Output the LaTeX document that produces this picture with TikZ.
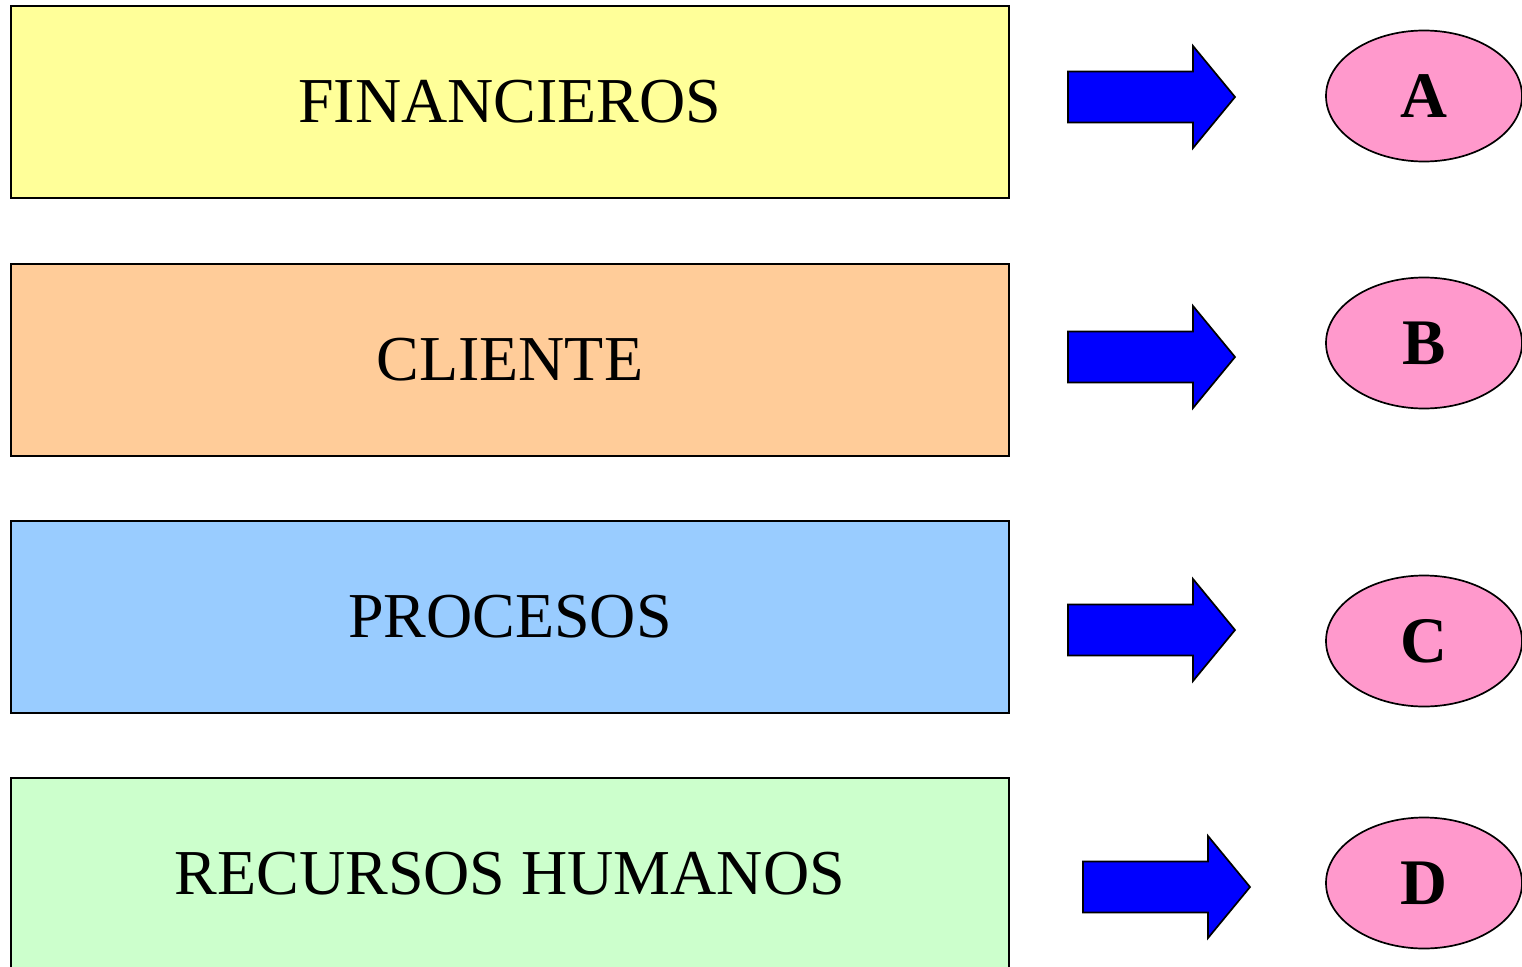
\documentclass[tikz,border=0pt]{standalone}
\usepackage{fontspec}
\setmainfont{Liberation Serif}
\usetikzlibrary{shapes.geometric, positioning}

\definecolor{finyellow}{RGB}{255,255,153}
\definecolor{cliorange}{RGB}{255,204,153}
\definecolor{problue}{RGB}{153,204,255}
\definecolor{rhgreen}{RGB}{204,255,204}
\definecolor{markpink}{RGB}{255,153,204}

\begin{document}
\begin{tikzpicture}[
            x=1pt, y=-1pt,
            block/.style={
                    rectangle,
                    draw=black,
                    line width=1.7pt,
                    anchor=north west,
                    align=center,
                    font=\fontsize{64}{70}\selectfont,
                    minimum width=998pt,
                    minimum height=192pt,
                    inner sep=0pt
                },
            oval/.style={
                    ellipse,
                    draw=black,
                    line width=1.7pt,
                    fill=markpink,
                    font=\fontsize{65}{70}\selectfont\bfseries,
                    minimum width=196pt,
                    minimum height=131pt,
                    inner sep=0pt
                },
            bigarrow/.pic={
                    \path [draw=black, line width=1.7pt, fill=blue, line join=miter]
                        (0,-25.5) -- (125,-25.5) -- (125,-51) -- (167,0)
                        -- (125,51) -- (125,25.5) -- (0,25.5) -- cycle;
                }
        ]

        \useasboundingbox (0,0) rectangle (1522,966);

        % Perspectives
        \node [block, fill=finyellow] (fin) at (10,5) {FINANCIEROS};
        \node [block, fill=cliorange] (cli) at (10,263) {CLIENTE};
        \node [block, fill=problue] (pro) at (10,520) {PROCESOS};
        \node [block, fill=rhgreen] (rh) at (10,777) {RECURSOS HUMANOS};

        % Marks
        \node [oval] (a) at (1424,96) {A};
        \node [oval] (b) at (1424,343) {B};
        \node [oval] (c) at (1424,641) {C};
        \node [oval] (d) at (1424,883) {D};

        % Block arrows
        \pic at (1068,97) {bigarrow};
        \pic at (1068,357) {bigarrow};
        \pic at (1068,630) {bigarrow};
        \pic at (1083,887) {bigarrow};
    \end{tikzpicture}
\end{document}
